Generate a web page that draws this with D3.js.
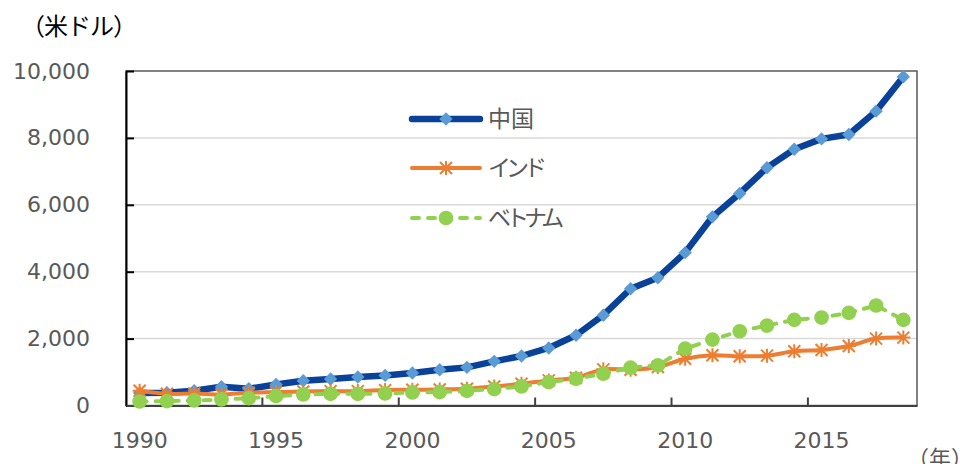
<!DOCTYPE html>
<html>
<head>
<meta charset="utf-8">
<script src="https://cdn.jsdelivr.net/npm/d3@7"></script>
<style>
  body { margin: 0; background: #fff; }
  svg { display: block; }
</style>
</head>
<body>
<div id="graph"></div>
<script>
// data (US$ per capita)
var years = d3.range(1990, 2019);
var seriesNames = ["中国", "インド", "ベトナム"];
var china = [370, 380, 440, 560, 500, 630, 740, 790, 850, 900, 970, 1070, 1140, 1320, 1480, 1720, 2100, 2700, 3490, 3820, 4570, 5640, 6340, 7110, 7660, 7970, 8100, 8800, 9830];
var india = [440, 350, 360, 330, 380, 400, 420, 430, 430, 460, 470, 480, 500, 570, 650, 750, 830, 1080, 1070, 1150, 1400, 1500, 1470, 1490, 1620, 1660, 1780, 2000, 2030];
var vietnam = [120, 130, 150, 180, 220, 280, 330, 350, 350, 360, 390, 400, 440, 490, 570, 700, 800, 950, 1130, 1200, 1700, 1970, 2220, 2390, 2560, 2630, 2770, 2990, 2560];
var yTicks = [0, 2000, 4000, 6000, 8000, 10000];
var xLabels = [1990, 1995, 2000, 2005, 2010, 2015];
var xTickYears = [1995, 2000, 2005, 2010, 2015];

const WIDTH = 960;
const HEIGHT = 464;
var margin = { top: 71, right: 43, bottom: 58.5, left: 126 },
  width = WIDTH - margin.left - margin.right,
  height = HEIGHT - margin.top - margin.bottom;

var svg = d3.select("#graph")
  .append("svg")
  .attr("width", WIDTH)
  .attr("height", HEIGHT);

var g = svg.append("g")
  .attr("transform", "translate(" + margin.left + "," + margin.top + ")");

var x = d3.scaleBand().domain(years).range([0, width]);
var y = d3.scaleLinear().domain([0, 10000]).range([height, 0]);
var cx = function (yr) { return x(yr) + x.bandwidth() / 2; };

// gridlines
g.append("g").selectAll("line")
  .data(yTicks.filter(function (d) { return d > 0 && d < 10000; }))
  .join("line")
  .attr("x1", 0).attr("x2", width)
  .attr("y1", function (d) { return y(d); })
  .attr("y2", function (d) { return y(d); })
  .attr("stroke", "#d9d9d9")
  .attr("stroke-width", 1.5);

// plot frame
g.append("rect")
  .attr("width", width).attr("height", height)
  .attr("fill", "none")
  .attr("stroke", "#595959")
  .attr("stroke-width", 1.5);

// y axis (ticks pointing inward)
var yAxis = d3.axisLeft(y).tickValues(yTicks)
  .tickSizeInner(-8).tickSizeOuter(0).tickPadding(36)
  .tickFormat(d3.format(","));
var ya = g.append("g").call(yAxis);
ya.select(".domain").attr("stroke", "#000").attr("stroke-width", 2);
ya.selectAll(".tick line").attr("stroke", "#000").attr("stroke-width", 2);
ya.selectAll("text")
  .attr("fill", "#595959")
  .style("font-family", "'DejaVu Sans', Verdana, sans-serif")
  .style("font-size", "22px");

// x axis: labels at category centres, ticks between categories
var xAxis = d3.axisBottom(x).tickValues(xLabels)
  .tickSize(0).tickPadding(27);
var xa = g.append("g")
  .attr("transform", "translate(0," + height + ")")
  .call(xAxis);
xa.select(".domain").attr("stroke", "#404040").attr("stroke-width", 2);
xa.selectAll("text")
  .attr("fill", "#595959")
  .style("font-family", "'DejaVu Sans', Verdana, sans-serif")
  .style("font-size", "22px");

g.append("g").selectAll("line")
  .data(xTickYears)
  .join("line")
  .attr("x1", function (d) { return x(d); })
  .attr("x2", function (d) { return x(d); })
  .attr("y1", height).attr("y2", height - 8)
  .attr("stroke", "#404040")
  .attr("stroke-width", 2);

// markers
function diamond(sel) {
  sel.attr("d", d3.symbol(d3.symbolSquare, 90)())
    .attr("fill", "#5b9bd5");
}
function star(sel) {
  sel.attr("d", "M0,-7V7M-6,-6L6,6M6,-6L-6,6M-7,0H7")
    .attr("fill", "none")
    .attr("stroke", "#ed7d31")
    .attr("stroke-width", 2);
}
function dot(sel) {
  sel.attr("d", d3.symbol(d3.symbolCircle, 170)())
    .attr("fill", "#92d050");
}

var series = [
  { name: seriesNames[0], values: china, color: "#0a4199", width: 6.5, dash: null, curve: d3.curveLinear, marker: diamond, rot: 45, ls: 0 },
  { name: seriesNames[1], values: india, color: "#ed7d31", width: 4, dash: null, curve: d3.curveCardinal.tension(0), marker: star, rot: 0, ls: -5 },
  { name: seriesNames[2], values: vietnam, color: "#92d050", width: 4, dash: "7,9", curve: d3.curveLinear, marker: dot, rot: 0, ls: -5 }
];

series.forEach(function (s) {
  var line = d3.line()
    .x(function (d, i) { return cx(years[i]); })
    .y(function (d) { return y(d); })
    .curve(s.curve);
  g.append("path")
    .attr("d", line(s.values))
    .attr("fill", "none")
    .attr("stroke", s.color)
    .attr("stroke-width", s.width)
    .attr("stroke-linejoin", "round")
    .attr("stroke-linecap", "round")
    .attr("stroke-dasharray", s.dash);
  g.append("g").selectAll("path")
    .data(s.values)
    .join("path")
    .attr("transform", function (d, i) {
      return "translate(" + cx(years[i]) + "," + y(d) + ") rotate(" + s.rot + ")";
    })
    .call(s.marker);
});

// legend
var legY = [119, 168, 218];
var leg = svg.append("g");
series.forEach(function (s, i) {
  var row = leg.append("g").attr("transform", "translate(0," + legY[i] + ")");
  row.append("line")
    .attr("x1", 412).attr("x2", 480)
    .attr("stroke", s.color)
    .attr("stroke-width", s.width)
    .attr("stroke-linecap", "round")
    .attr("stroke-dasharray", s.dash);
  row.append("path")
    .attr("transform", "translate(446,0) rotate(" + s.rot + ")")
    .call(s.marker);
  row.append("text")
    .attr("x", 488).attr("dy", "0.36em")
    .attr("fill", "#595959")
    .style("font-family", "'Noto Sans CJK JP', sans-serif")
    .style("font-size", "23px")
    .style("letter-spacing", s.ls + "px")
    .text(s.name);
});

// unit labels
svg.append("text")
  .attr("x", 21).attr("y", 35)
  .attr("fill", "#000")
  .style("font-family", "'Noto Sans CJK JP', sans-serif")
  .style("font-size", "24px")
  .style("letter-spacing", "-1px")
  .text("（米ドル）");
svg.append("text")
  .attr("x", 907).attr("y", 466)
  .attr("fill", "#595959")
  .style("font-family", "'Noto Sans CJK JP', sans-serif")
  .style("font-size", "22px")
  .text("（年）");
</script>
</body>
</html>
